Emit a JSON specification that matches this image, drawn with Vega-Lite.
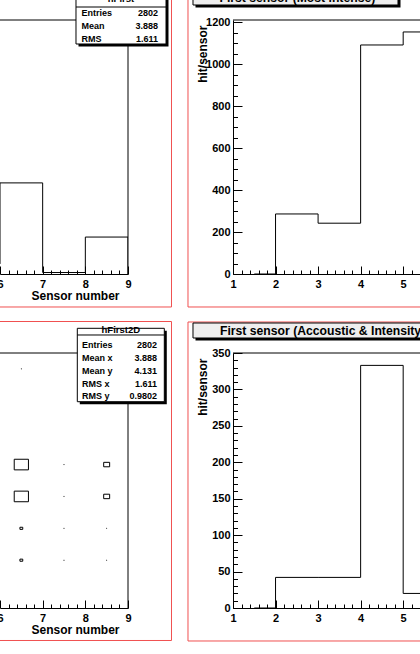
{
  "$schema": "https://vega.github.io/schema/vega-lite/v6.json",
  "background": "white",
  "padding": {"left": -4, "top": -11, "right": -48, "bottom": 5},
  "columns": 2,
  "spacing": {"row": 79, "column": 105},
  "bounds": "flush",
  "config": {
    "view": {"stroke": null},
    "axis": {"domainColor": "black", "tickColor": "black", "labelColor": "black", "titleColor": "black", "labelFont": "Liberation Sans", "labelFontWeight": "bold", "labelFontSize": 11, "titleFont": "Liberation Sans", "titleFontWeight": "bold", "titleFontSize": 12, "grid": false, "labelFlush": false, "labelOverlap": false, "domainWidth": 1, "tickWidth": 1},
    "text": {"font": "Liberation Sans", "fontWeight": "bold", "color": "black"}
  },
  "datasets": {
    "hFirst": [{"sensor": 5.5, "hits": 48}, {"sensor": 6.5, "hits": 434}, {"sensor": 7.5, "hits": 7}, {"sensor": 8.5, "hits": 176}, {"sensor": 9.5, "hits": 0}],
    "mostIntense": [{"sensor": 1.5, "hits": 0}, {"sensor": 2.5, "hits": 286}, {"sensor": 3.5, "hits": 242}, {"sensor": 4.5, "hits": 1091}, {"sensor": 5.5, "hits": 1153}],
    "acoustic": [{"sensor": 1.5, "hits": 0}, {"sensor": 2.5, "hits": 42}, {"sensor": 3.5, "hits": 42}, {"sensor": 4.5, "hits": 333}, {"sensor": 5.5, "hits": 20}],
    "hFirst2D": [
      {"sx": 6.5, "sy": 2.5, "entries": 60}, {"sx": 6.5, "sy": 3.5, "entries": 60}, {"sx": 6.5, "sy": 4.5, "entries": 300}, {"sx": 6.5, "sy": 5.5, "entries": 300}, {"sx": 6.5, "sy": 8.5, "entries": 6},
      {"sx": 7.5, "sy": 2.5, "entries": 6}, {"sx": 7.5, "sy": 3.5, "entries": 6}, {"sx": 7.5, "sy": 4.5, "entries": 6}, {"sx": 7.5, "sy": 5.5, "entries": 6},
      {"sx": 8.5, "sy": 2.5, "entries": 6}, {"sx": 8.5, "sy": 3.5, "entries": 6}, {"sx": 8.5, "sy": 4.5, "entries": 126}, {"sx": 8.5, "sy": 5.5, "entries": 126}
    ]
  },
  "concat": [
    {
      "width": 128, "height": 254,
      "resolve": {"axis": {"x": "independent", "y": "independent"}},
      "layer": [
        {"data": {"name": "hFirst"}, "mark": {"type": "line", "interpolate": "step", "color": "black", "strokeWidth": 1, "clip": true},
         "encoding": {
           "x": {"field": "sensor", "type": "quantitative", "scale": {"domain": [6, 9], "nice": false, "zero": false},
                 "axis": {"orient": "bottom", "values": [6, 7, 8, 9], "tickSize": -8, "labelPadding": 12, "title": "Sensor number", "titleX": 119, "titleY": 25.5, "titleAlign": "right", "titleBaseline": "alphabetic"}},
           "y": {"field": "hits", "type": "quantitative", "scale": {"domain": [0, 1210], "nice": false, "zero": false}, "axis": null}}},
        {"data": {"name": "hFirst"}, "mark": {"type": "line", "interpolate": "step", "opacity": 0, "clip": true},
         "encoding": {
           "x": {"field": "sensor", "type": "quantitative", "axis": {"orient": "bottom", "values": [6.2, 6.4, 6.6, 6.8, 7.2, 7.4, 7.6, 7.8, 8.2, 8.4, 8.6, 8.8], "tickSize": -4, "labels": false, "domain": false, "title": null}},
           "y": {"field": "hits", "type": "quantitative", "axis": null}}},
        {"data": {"values": [{}]}, "mark": {"type": "rule", "color": "black", "strokeWidth": 1},
         "encoding": {"x": {"datum": 6, "type": "quantitative", "axis": null}, "x2": {"datum": 9}, "y": {"datum": 1210, "type": "quantitative", "axis": null}}},
        {"data": {"values": [{}]}, "mark": {"type": "rule", "color": "black", "strokeWidth": 1},
         "encoding": {"x": {"datum": 9, "type": "quantitative", "axis": null}, "y": {"datum": 0, "type": "quantitative", "axis": null}, "y2": {"datum": 1210}}},
        {"data": {"values": [{}]}, "mark": {"type": "rule", "color": "#f05050", "strokeWidth": 1},
         "encoding": {"x": {"datum": 10.0195, "type": "quantitative", "axis": null}, "y": {"datum": 1352.9, "type": "quantitative", "axis": null}, "y2": {"datum": -157.2}}},
        {"data": {"values": [{}]}, "mark": {"type": "rule", "color": "#f05050", "strokeWidth": 1},
         "encoding": {"x": {"datum": 6, "type": "quantitative", "axis": null}, "x2": {"datum": 10.0195}, "y": {"datum": -157.2, "type": "quantitative", "axis": null}}},
        {"data": {"values": [{}]}, "mark": {"type": "rect", "color": "black"},
         "encoding": {"x": {"datum": 7.84, "type": "quantitative", "axis": null}, "x2": {"datum": 9.949}, "y": {"datum": 1341.0, "type": "quantitative", "axis": null}, "y2": {"datum": 1083.8}}},
        {"data": {"values": [{}]}, "mark": {"type": "rect", "fill": "white", "stroke": "black", "strokeWidth": 1},
         "encoding": {"x": {"datum": 7.781, "type": "quantitative", "axis": null}, "x2": {"datum": 9.891}, "y": {"datum": 1352.9, "type": "quantitative", "axis": null}, "y2": {"datum": 1095.7}}},
        {"data": {"values": [{}]}, "mark": {"type": "rule", "color": "black", "strokeWidth": 1},
         "encoding": {"x": {"datum": 7.781, "type": "quantitative", "axis": null}, "x2": {"datum": 9.891}, "y": {"datum": 1271.9, "type": "quantitative", "axis": null}}},
        {"data": {"values": [{}]}, "mark": {"type": "text", "text": "hFirst", "align": "center", "baseline": "alphabetic", "fontSize": 9.5},
         "encoding": {"x": {"datum": 8.836, "type": "quantitative", "axis": null}, "y": {"datum": 1295.8, "type": "quantitative", "axis": null}}},
        {"data": {"values": [{}]}, "mark": {"type": "text", "text": ["Entries", "Mean", "RMS"], "align": "left", "baseline": "alphabetic", "fontSize": 9, "lineHeight": 13},
         "encoding": {"x": {"datum": 7.91, "type": "quantitative", "axis": null}, "y": {"datum": 1231.0, "type": "quantitative", "axis": null}}},
        {"data": {"values": [{}]}, "mark": {"type": "text", "text": ["2802", "3.888", "1.611"], "align": "right", "baseline": "alphabetic", "fontSize": 9, "lineHeight": 13},
         "encoding": {"x": {"datum": 9.703, "type": "quantitative", "axis": null}, "y": {"datum": 1231.0, "type": "quantitative", "axis": null}}}
      ]
    },
    {
      "width": 234, "height": 254,
      "resolve": {"axis": {"x": "independent", "y": "independent"}},
      "layer": [
        {"data": {"name": "mostIntense"}, "mark": {"type": "line", "interpolate": "step", "color": "black", "strokeWidth": 1, "clip": true},
         "encoding": {
           "x": {"field": "sensor", "type": "quantitative", "scale": {"domain": [1, 6.5], "nice": false, "zero": false},
                 "axis": {"orient": "bottom", "values": [1, 2, 3, 4, 5, 6], "tickSize": -8, "labelPadding": 12, "title": null}},
           "y": {"field": "hits", "type": "quantitative", "scale": {"domain": [0, 1210], "nice": false, "zero": false},
                 "axis": {"orient": "left", "values": [0, 200, 400, 600, 800, 1000, 1200], "format": "d", "tickSize": -9, "labelPadding": 12, "title": "hit/sensor", "titleX": -30.5, "titleY": 5, "titleAngle": 270, "titleAlign": "right", "titleBaseline": "middle"}}}},
        {"data": {"name": "mostIntense"}, "mark": {"type": "line", "interpolate": "step", "opacity": 0, "clip": true},
         "encoding": {
           "x": {"field": "sensor", "type": "quantitative", "axis": {"orient": "bottom", "values": [1.2, 1.4, 1.6, 1.8, 2.2, 2.4, 2.6, 2.8, 3.2, 3.4, 3.6, 3.8, 4.2, 4.4, 4.6, 4.8, 5.2, 5.4, 5.6, 5.8, 6.2, 6.4], "tickSize": -4, "labels": false, "domain": false, "title": null}},
           "y": {"field": "hits", "type": "quantitative", "axis": {"orient": "left", "values": [50, 100, 150, 250, 300, 350, 450, 500, 550, 650, 700, 750, 850, 900, 950, 1050, 1100, 1150], "tickSize": -4.5, "labels": false, "domain": false, "title": null}}}},
        {"data": {"values": [{}]}, "mark": {"type": "rule", "color": "black", "strokeWidth": 1},
         "encoding": {"x": {"datum": 1, "type": "quantitative", "axis": null}, "x2": {"datum": 6.5}, "y": {"datum": 1210, "type": "quantitative", "axis": null}}},
        {"data": {"values": [{}]}, "mark": {"type": "rule", "color": "#f05050", "strokeWidth": 1},
         "encoding": {"x": {"datum": -0.0577, "type": "quantitative", "axis": null}, "y": {"datum": 1352.9, "type": "quantitative", "axis": null}, "y2": {"datum": -157.2}}},
        {"data": {"values": [{}]}, "mark": {"type": "rule", "color": "#f05050", "strokeWidth": 1},
         "encoding": {"x": {"datum": -0.0577, "type": "quantitative", "axis": null}, "x2": {"datum": 6.4}, "y": {"datum": -157.2, "type": "quantitative", "axis": null}}},
        {"data": {"values": [{}]}, "mark": {"type": "rect", "color": "black"},
         "encoding": {"x": {"datum": 0.1186, "type": "quantitative", "axis": null}, "x2": {"datum": 4.937}, "y": {"datum": 1341.0, "type": "quantitative", "axis": null}, "y2": {"datum": 1269.5}}},
        {"data": {"values": [{}]}, "mark": {"type": "rect", "fill": "#eeeeee", "stroke": "black", "strokeWidth": 1},
         "encoding": {"x": {"datum": 0.0598, "type": "quantitative", "axis": null}, "x2": {"datum": 4.878}, "y": {"datum": 1352.9, "type": "quantitative", "axis": null}, "y2": {"datum": 1281.5}}},
        {"data": {"values": [{}]}, "mark": {"type": "text", "text": "First sensor (Most intense)", "align": "left", "baseline": "alphabetic", "fontSize": 12.2},
         "encoding": {"x": {"datum": 0.6827, "type": "quantitative", "axis": null}, "y": {"datum": 1295.8, "type": "quantitative", "axis": null}}}
      ]
    },
    {
      "width": 128, "height": 255,
      "resolve": {"axis": {"x": "independent", "y": "independent"}},
      "layer": [
        {"data": {"name": "hFirst2D"}, "mark": {"type": "point", "shape": "M-1.157,-0.864H1.157V0.864H-1.157Z", "filled": false, "color": "black", "strokeWidth": 1, "opacity": 1},
         "encoding": {
           "x": {"field": "sx", "type": "quantitative", "scale": {"domain": [6, 9], "nice": false, "zero": false},
                 "axis": {"orient": "bottom", "values": [6, 7, 8, 9], "tickSize": -8, "labelPadding": 12, "title": "Sensor number", "titleX": 119, "titleY": 25.5, "titleAlign": "right", "titleBaseline": "alphabetic"}},
           "y": {"field": "sy", "type": "quantitative", "scale": {"domain": [1, 9], "nice": false, "zero": false}, "axis": null},
           "size": {"field": "entries", "type": "quantitative", "scale": {"type": "pow", "exponent": 2, "domain": [0, 900], "range": [0, 1360]}, "legend": null}}},
        {"data": {"name": "hFirst2D"}, "mark": {"type": "point", "opacity": 0},
         "encoding": {
           "x": {"field": "sx", "type": "quantitative", "axis": {"orient": "bottom", "values": [6.2, 6.4, 6.6, 6.8, 7.2, 7.4, 7.6, 7.8, 8.2, 8.4, 8.6, 8.8], "tickSize": -4, "labels": false, "domain": false, "title": null}},
           "y": {"field": "sy", "type": "quantitative", "axis": null}}},
        {"data": {"values": [{}]}, "mark": {"type": "rule", "color": "black", "strokeWidth": 1},
         "encoding": {"x": {"datum": 6, "type": "quantitative", "axis": null}, "x2": {"datum": 9}, "y": {"datum": 9, "type": "quantitative", "axis": null}}},
        {"data": {"values": [{}]}, "mark": {"type": "rule", "color": "black", "strokeWidth": 1},
         "encoding": {"x": {"datum": 9, "type": "quantitative", "axis": null}, "y": {"datum": 1, "type": "quantitative", "axis": null}, "y2": {"datum": 9}}},
        {"data": {"values": [{}]}, "mark": {"type": "rule", "color": "#f05050", "strokeWidth": 1},
         "encoding": {"x": {"datum": 6, "type": "quantitative", "axis": null}, "x2": {"datum": 10.0195}, "y": {"datum": 9.988, "type": "quantitative", "axis": null}}},
        {"data": {"values": [{}]}, "mark": {"type": "rule", "color": "#f05050", "strokeWidth": 1},
         "encoding": {"x": {"datum": 10.0195, "type": "quantitative", "axis": null}, "y": {"datum": 9.988, "type": "quantitative", "axis": null}, "y2": {"datum": -0.0196}}},
        {"data": {"values": [{}]}, "mark": {"type": "rule", "color": "#f05050", "strokeWidth": 1},
         "encoding": {"x": {"datum": 6, "type": "quantitative", "axis": null}, "x2": {"datum": 10.0195}, "y": {"datum": -0.0196, "type": "quantitative", "axis": null}}},
        {"data": {"values": [{}]}, "mark": {"type": "rect", "color": "black"},
         "encoding": {"x": {"datum": 7.87, "type": "quantitative", "axis": null}, "x2": {"datum": 9.909}, "y": {"datum": 9.697, "type": "quantitative", "axis": null}, "y2": {"datum": 7.394}}},
        {"data": {"values": [{}]}, "mark": {"type": "rect", "fill": "white", "stroke": "black", "strokeWidth": 1},
         "encoding": {"x": {"datum": 7.812, "type": "quantitative", "axis": null}, "x2": {"datum": 9.851}, "y": {"datum": 9.775, "type": "quantitative", "axis": null}, "y2": {"datum": 7.472}}},
        {"data": {"values": [{}]}, "mark": {"type": "rule", "color": "black", "strokeWidth": 1},
         "encoding": {"x": {"datum": 7.812, "type": "quantitative", "axis": null}, "x2": {"datum": 9.851}, "y": {"datum": 9.565, "type": "quantitative", "axis": null}}},
        {"data": {"values": [{}]}, "mark": {"type": "text", "text": "hFirst2D", "align": "center", "baseline": "alphabetic", "fontSize": 9.5},
         "encoding": {"x": {"datum": 8.831, "type": "quantitative", "axis": null}, "y": {"datum": 9.612, "type": "quantitative", "axis": null}}},
        {"data": {"values": [{}]}, "mark": {"type": "text", "text": ["Entries", "Mean x", "Mean y", "RMS x", "RMS y"], "align": "left", "baseline": "alphabetic", "fontSize": 9, "lineHeight": 12.75},
         "encoding": {"x": {"datum": 7.922, "type": "quantitative", "axis": null}, "y": {"datum": 9.147, "type": "quantitative", "axis": null}}},
        {"data": {"values": [{}]}, "mark": {"type": "text", "text": ["2802", "3.888", "4.131", "1.611", "0.9802"], "align": "right", "baseline": "alphabetic", "fontSize": 9, "lineHeight": 12.75},
         "encoding": {"x": {"datum": 9.68, "type": "quantitative", "axis": null}, "y": {"datum": 9.147, "type": "quantitative", "axis": null}}}
      ]
    },
    {
      "width": 234, "height": 255,
      "resolve": {"axis": {"x": "independent", "y": "independent"}},
      "layer": [
        {"data": {"name": "acoustic"}, "mark": {"type": "line", "interpolate": "step", "color": "black", "strokeWidth": 1, "clip": true},
         "encoding": {
           "x": {"field": "sensor", "type": "quantitative", "scale": {"domain": [1, 6.5], "nice": false, "zero": false},
                 "axis": {"orient": "bottom", "values": [1, 2, 3, 4, 5, 6], "tickSize": -8, "labelPadding": 12, "title": null}},
           "y": {"field": "hits", "type": "quantitative", "scale": {"domain": [0, 350], "nice": false, "zero": false},
                 "axis": {"orient": "left", "values": [0, 50, 100, 150, 200, 250, 300, 350], "format": "d", "tickSize": -9, "labelPadding": 12, "title": "hit/sensor", "titleX": -30.5, "titleY": 5, "titleAngle": 270, "titleAlign": "right", "titleBaseline": "middle"}}}},
        {"data": {"name": "acoustic"}, "mark": {"type": "line", "interpolate": "step", "opacity": 0, "clip": true},
         "encoding": {
           "x": {"field": "sensor", "type": "quantitative", "axis": {"orient": "bottom", "values": [1.2, 1.4, 1.6, 1.8, 2.2, 2.4, 2.6, 2.8, 3.2, 3.4, 3.6, 3.8, 4.2, 4.4, 4.6, 4.8, 5.2, 5.4, 5.6, 5.8, 6.2, 6.4], "tickSize": -4, "labels": false, "domain": false, "title": null}},
           "y": {"field": "hits", "type": "quantitative", "axis": {"orient": "left", "values": [10, 20, 30, 40, 60, 70, 80, 90, 110, 120, 130, 140, 160, 170, 180, 190, 210, 220, 230, 240, 260, 270, 280, 290, 310, 320, 330, 340], "tickSize": -4.5, "labels": false, "domain": false, "title": null}}}},
        {"data": {"values": [{}]}, "mark": {"type": "rule", "color": "black", "strokeWidth": 1},
         "encoding": {"x": {"datum": 1, "type": "quantitative", "axis": null}, "x2": {"datum": 6.5}, "y": {"datum": 350, "type": "quantitative", "axis": null}}},
        {"data": {"values": [{}]}, "mark": {"type": "rule", "color": "#f05050", "strokeWidth": 1},
         "encoding": {"x": {"datum": -0.0577, "type": "quantitative", "axis": null}, "y": {"datum": 392.55, "type": "quantitative", "axis": null}, "y2": {"datum": -45.29}}},
        {"data": {"values": [{}]}, "mark": {"type": "rule", "color": "#f05050", "strokeWidth": 1},
         "encoding": {"x": {"datum": -0.0577, "type": "quantitative", "axis": null}, "x2": {"datum": 6.4}, "y": {"datum": 392.55, "type": "quantitative", "axis": null}}},
        {"data": {"values": [{}]}, "mark": {"type": "rule", "color": "#f05050", "strokeWidth": 1},
         "encoding": {"x": {"datum": -0.0577, "type": "quantitative", "axis": null}, "x2": {"datum": 6.4}, "y": {"datum": -45.29, "type": "quantitative", "axis": null}}},
        {"data": {"values": [{}]}, "mark": {"type": "rect", "color": "black"},
         "encoding": {"x": {"datum": 0.1186, "type": "quantitative", "axis": null}, "x2": {"datum": 6.2064}, "y": {"datum": 387.75, "type": "quantitative", "axis": null}, "y2": {"datum": 367.16}}},
        {"data": {"values": [{}]}, "mark": {"type": "rect", "fill": "#eeeeee", "stroke": "black", "strokeWidth": 1},
         "encoding": {"x": {"datum": 0.0598, "type": "quantitative", "axis": null}, "x2": {"datum": 6.1476}, "y": {"datum": 391.18, "type": "quantitative", "axis": null}, "y2": {"datum": 370.59}}},
        {"data": {"values": [{}]}, "mark": {"type": "text", "text": "First sensor (Accoustic & Intensity)", "align": "left", "baseline": "alphabetic", "fontSize": 12.2},
         "encoding": {"x": {"datum": 0.6944, "type": "quantitative", "axis": null}, "y": {"datum": 374.71, "type": "quantitative", "axis": null}}}
      ]
    }
  ]
}
